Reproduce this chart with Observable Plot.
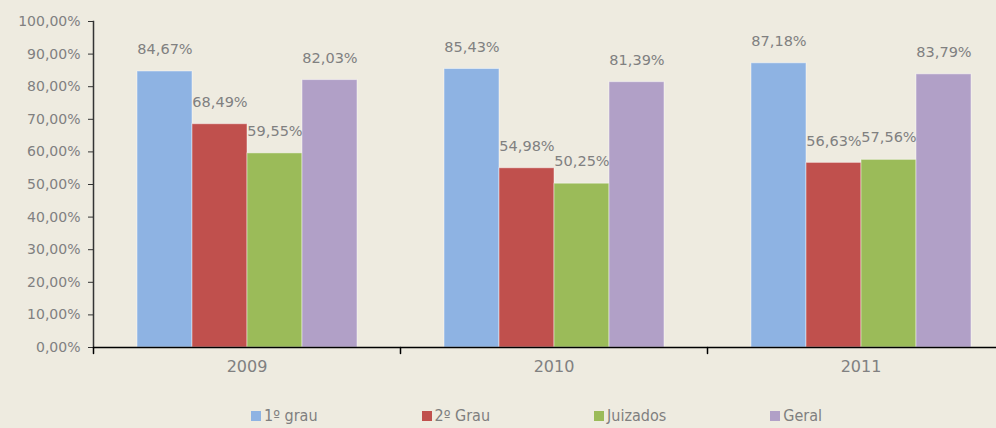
<!DOCTYPE html>
<html>
<head>
<meta charset="utf-8">
<script src="https://cdn.jsdelivr.net/npm/d3@7"></script>
<script src="https://cdn.jsdelivr.net/npm/@observablehq/plot@0.6"></script>
<style>
  html, body { margin: 0; padding: 0; background: #eeebe0; overflow: hidden; width: 996px; height: 428px; }
  #chart svg { display: block; }
  .legend { display: flex; gap: 104px; padding-left: 251px; margin-top: 17px; line-height: 18px; font-family: "DejaVu Sans Condensed", "DejaVu Sans", sans-serif; font-size: 16px; color: #7f7f7f; white-space: nowrap; }
  .legend .item { display: flex; align-items: center; gap: 3px; }
  .legend .sw { width: 10px; height: 10px; display: inline-block; }
</style>
</head>
<body>
<div id="chart"></div>
<script>
const years = ["2009", "2010", "2011"];
const series = ["1º grau", "2º Grau", "Juizados", "Geral"];
const primeiroGrau = [84.67, 85.43, 87.18];
const segundoGrau = [68.49, 54.98, 56.63];
const juizados = [59.55, 50.25, 57.56];
const geral = [82.03, 81.39, 83.79];
const colors = ["#8eb3e3", "#c0504d", "#9bbb59", "#b1a0c7"];
const yTicks = [0, 10, 20, 30, 40, 50, 60, 70, 80, 90, 100];

const valuesBySeries = [primeiroGrau, segundoGrau, juizados, geral];
const data = years.flatMap((year, i) => series.map((s, j) => ({year, series: s, value: valuesBySeries[j][i]})));
const fmt = v => v.toFixed(2).replace(".", ",") + "%";

const chart = Plot.plot({
  width: 1014,
  height: 390,
  marginLeft: 93,
  marginRight: 0,
  marginTop: 21,
  marginBottom: 43,
  style: {background: "transparent", maxWidth: "none", fontFamily: "DejaVu Sans, sans-serif", color: "#7f7f7f"},
  fx: {domain: years, padding: 0, label: null},
  x: {domain: series, paddingInner: 0, paddingOuter: 0.77, axis: null},
  y: {domain: [0, 100], label: null},
  color: {domain: series, range: colors},
  marks: [
    Plot.barY(data, {fx: "year", x: "series", y: "value", fill: "series", stroke: "#ffffff", strokeOpacity: 0.45, strokeWidth: 1}),
    Plot.text(data, {fx: "year", x: "series", y: "value", text: d => fmt(d.value), dy: -22, fill: "#808080", fontSize: 14.5}),
    Plot.axisY({ticks: yTicks, tickFormat: fmt, tickSize: 5, tickPadding: 8, fontSize: 14, stroke: "#333", fill: "#808080", label: null}),
    Plot.axisFx({anchor: "bottom", tickSize: 0, tickPadding: 13, fontSize: 16, fill: "#808080", label: null}),
    Plot.frame({anchor: "left", facet: "super", stroke: "#333", strokeWidth: 1.5}),
    Plot.ruleY(years, {fx: d => d, y: () => 0, stroke: "#000", strokeWidth: 1.5}),
    Plot.vector(years, {
      fx: d => d,
      frameAnchor: "bottom-left",
      length: 6,
      rotate: 180,
      anchor: "start",
      stroke: "#000",
      strokeWidth: 1.5,
      shape: {draw(context, l) { context.moveTo(0, 0); context.lineTo(0, -l); }}
    })
  ]
});
document.getElementById("chart").append(chart);

const legend = document.createElement("div");
legend.className = "legend";
series.forEach((s, i) => {
  const item = document.createElement("span");
  item.className = "item";
  const sw = document.createElement("span");
  sw.className = "sw";
  sw.style.background = colors[i];
  item.append(sw, document.createTextNode(s));
  legend.append(item);
});
document.body.append(legend);
</script>
</body>
</html>
